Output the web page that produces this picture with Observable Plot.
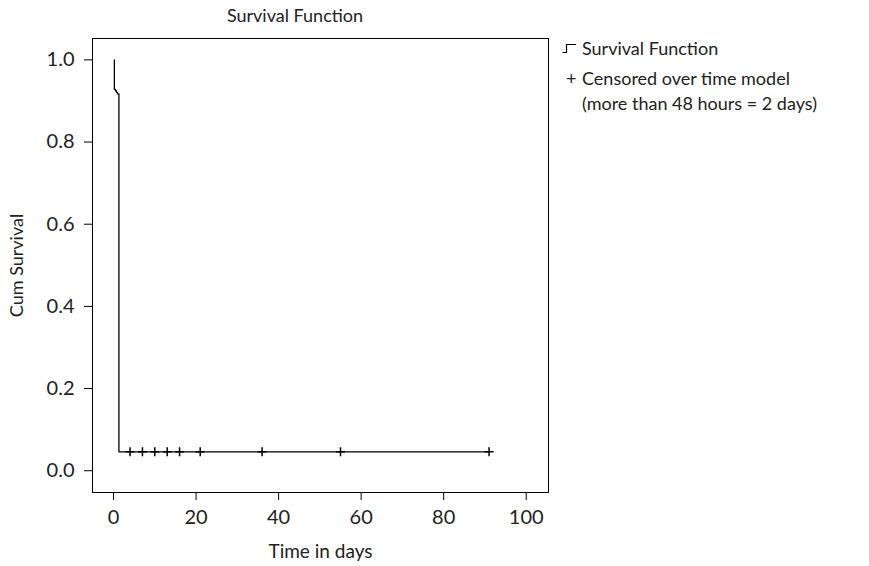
<!DOCTYPE html>
<html><head><meta charset="utf-8">
<script src="https://cdn.jsdelivr.net/npm/d3@7"></script>
<script src="https://cdn.jsdelivr.net/npm/@observablehq/plot@0.6"></script>
<style>
body{margin:0;background:#fff;font-family:Lato, "Open Sans", sans-serif;color:#000;}
#wrap{position:relative;width:869px;height:566px;}
#wrap svg.plot{position:absolute;left:0;top:0;}
#title{position:absolute;top:3px;left:0;width:590px;text-align:center;font-size:18px;line-height:24px;color:#222;}
#legend{position:absolute;left:562px;top:36px;font-size:18px;line-height:25px;color:#222;}
.row{position:relative;padding-left:20px;}
.glyph{position:absolute;left:0;top:7px;}
.sym{position:absolute;left:4px;top:0;}
</style></head><body>
<div id="wrap"></div>
<script>
// Kaplan-Meier survival curve (time in days, cumulative survival)
const eventTimes = [0.2, 0.2, 0.45, 0.7, 0.95, 1.3, 91];
const survival   = [1.0, 0.928, 0.925, 0.921, 0.917, 0.046, 0.046];
// Censored observations
const censoredTimes = [4, 7, 10, 13, 16, 21, 36, 55, 91];
const censoredSurvival = [0.046, 0.046, 0.046, 0.046, 0.046, 0.046, 0.046, 0.046, 0.046];
// Axis ticks
const xTicks = [0, 20, 40, 60, 80, 100];
const yTicks = [0, 0.2, 0.4, 0.6, 0.8, 1.0];
const titleText = "Survival Function";
const xLabel = "Time in days";
const yLabel = "Cum Survival";
const legendLabels = ["Survival Function", "Censored over time model", "(more than 48 hours = 2 days)"];

const curve = eventTimes.map((t, i) => ({t, s: survival[i]}));
const cens = censoredTimes.map((t, i) => ({t, s: censoredSurvival[i]}));

const chart = Plot.plot({
  width: 869, height: 566,
  marginLeft: 92, marginRight: 321, marginTop: 38, marginBottom: 74,
  style: {fontFamily: "Lato, 'Open Sans', sans-serif", fontSize: "18px", color: "#222", background: "transparent"},
  x: {domain: [-5.1, 105.4]},
  y: {domain: [-0.053, 1.052]},
  marks: [
    Plot.frame({stroke: "#000", strokeWidth: 1}),
    Plot.axisX({ticks: xTicks, tickSize: 8, tickPadding: 9, stroke: "#000", fontSize: 20, label: null}),
    Plot.axisX({ticks: [], label: xLabel, labelAnchor: "center", labelArrow: "none", labelOffset: 65, fontSize: 19}),
    Plot.axisY({ticks: yTicks, tickFormat: d3.format(".1f"), tickSize: 8, tickPadding: 10, stroke: "#000", fontSize: 20, label: null}),
    Plot.axisY({ticks: [], label: yLabel, labelAnchor: "center", labelArrow: "none", labelOffset: 82, fontSize: 18}),
    Plot.line(curve, {x: "t", y: "s", curve: "step-after", stroke: "#000", strokeWidth: 1.3}),
    Plot.dot(cens, {x: "t", y: "s", symbol: "plus", r: 3, stroke: "#000", strokeWidth: 1.5})
  ]
});
const wrap = document.getElementById("wrap");
wrap.appendChild(chart);

const title = document.createElement("div");
title.id = "title";
title.textContent = titleText;
wrap.appendChild(title);

const legend = document.createElement("div");
legend.id = "legend";
legend.innerHTML =
  `<div class="row"><svg class="glyph" width="16" height="11"><path d="M0.5,9.5H4.5V1.5H14" stroke="#000" stroke-width="1.2" fill="none"/></svg><span>${legendLabels[0]}</span></div>` +
  `<div class="row" style="margin-top:5px"><span class="sym">+</span><span>${legendLabels[1]}<br>${legendLabels[2]}</span></div>`;
wrap.appendChild(legend);
</script>
</body></html>
